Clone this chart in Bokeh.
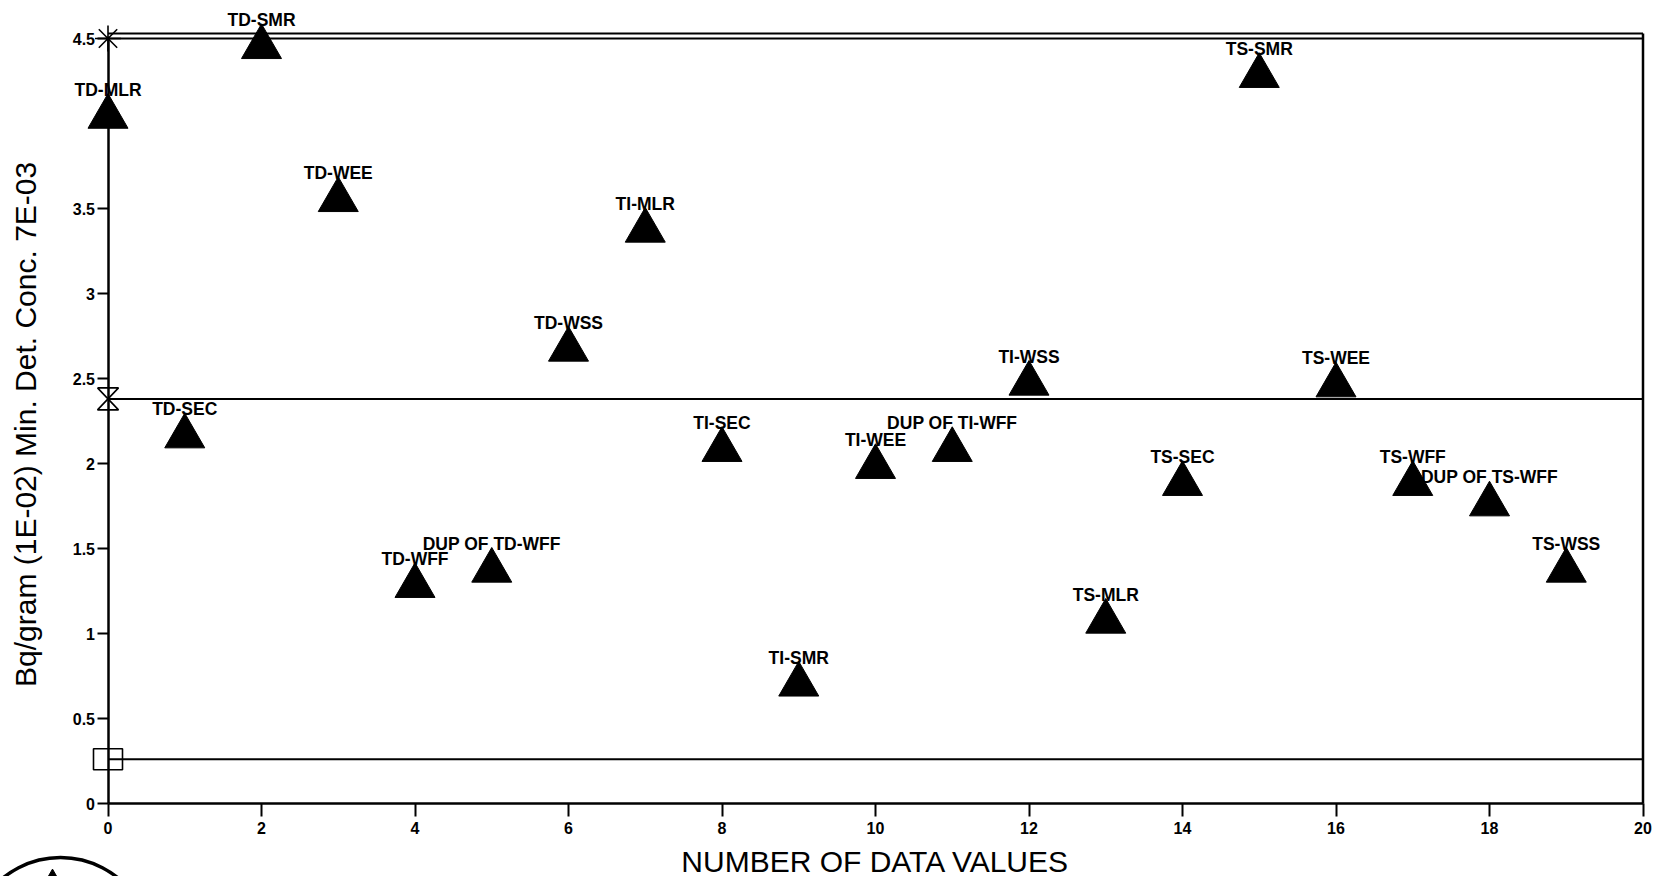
import math
from bokeh.plotting import figure
from bokeh.models import Range1d, LinearAxis, FixedTicker, Label, CustomJSTickFormatter, Grid
from bokeh.embed import file_html
from bokeh.resources import INLINE
from bokeh.core.properties import value

# ---------------- data ----------------
x_values = list(range(20))
sample_names = ["TD-MLR", "TD-SEC", "TD-SMR", "TD-WEE", "TD-WFF", "DUP OF TD-WFF",
                "TD-WSS", "TI-MLR", "TI-SEC", "TI-SMR", "TI-WEE", "DUP OF TI-WFF",
                "TI-WSS", "TS-MLR", "TS-SEC", "TS-SMR", "TS-WEE", "TS-WFF",
                "DUP OF TS-WFF", "TS-WSS"]
conc_values = [4.04, 2.16, 4.45, 3.55, 1.28, 1.37, 2.67, 3.37, 2.08, 0.70,
               1.98, 2.08, 2.47, 1.07, 1.88, 4.28, 2.46, 1.88, 1.76, 1.37]

limit_asterisk = [4.5]
limit_hourglass = [2.38]
limit_square = [0.26]
limit_levels = limit_asterisk + limit_hourglass + limit_square

x_ticks = [0, 2, 4, 6, 8, 10, 12, 14, 16, 18, 20]
y_ticks = [0, 0.5, 1, 1.5, 2, 2.5, 3, 3.5, 4.5]

x_title = "NUMBER OF DATA VALUES"
y_title = "Bq/gram (1E-02) Min. Det. Conc. 7E-03"

# ---------------- layout constants ----------------
FONT = "Liberation Sans"
W, H = 1660, 876
X0, X1 = 0, 20
FRAME_TOP = 4.53
ORIGIN_PX_X, ORIGIN_PX_Y = 107.5, 803.0   # canvas position of (0, 0)
PX_PER_X = 76.75
PX_PER_Y = 170.0


def px_to_x(px):
    return (px - ORIGIN_PX_X) / PX_PER_X


def px_to_y(py):
    return (ORIGIN_PX_Y - py) / PX_PER_Y


x_range = Range1d(px_to_x(0), px_to_x(W))
y_range = Range1d(px_to_y(H), px_to_y(0))

p = figure(width=W, height=H, x_range=x_range, y_range=y_range,
           output_backend="svg", toolbar_location=None,
           x_axis_location=None, y_axis_location=None,
           min_border_left=0, min_border_right=0, min_border_top=0, min_border_bottom=0)
p.outline_line_color = None
p.background_fill_color = "white"
p.border_fill_color = "white"
for g in p.select(type=Grid):
    g.visible = False

# axes placed at data origin
xaxis = LinearAxis(fixed_location=0, ticker=FixedTicker(ticks=x_ticks), bounds=(X0, X1))
xaxis.axis_line_width = 2.5
xaxis.major_tick_line_width = 2
xaxis.major_tick_out = 13
xaxis.major_tick_in = 0
xaxis.minor_tick_line_color = None
xaxis.major_label_standoff = 5
xaxis.major_label_text_font = FONT
xaxis.major_label_text_font_style = "bold"
xaxis.major_label_text_font_size = "16px"
xaxis.major_label_text_color = "black"
p.add_layout(xaxis, "below")

yaxis = LinearAxis(fixed_location=0, ticker=FixedTicker(ticks=y_ticks), bounds=(0, 4.5),
                   formatter=CustomJSTickFormatter(code="return tick.toString()"))
yaxis.axis_line_width = 2.5
yaxis.major_tick_line_width = 2
yaxis.major_tick_out = 11
yaxis.major_tick_in = 0
yaxis.minor_tick_line_color = None
yaxis.major_label_standoff = 2
yaxis.major_label_text_font = FONT
yaxis.major_label_text_font_style = "bold"
yaxis.major_label_text_font_size = "16px"
yaxis.major_label_text_color = "black"
p.add_layout(yaxis, "left")

# frame top and right border
p.segment(x0=[X0], y0=[FRAME_TOP], x1=[X1], y1=[FRAME_TOP], line_color="black", line_width=2)
p.segment(x0=[X1], y0=[0], x1=[X1], y1=[FRAME_TOP], line_color="black", line_width=2.5)

# limit lines
p.segment(x0=[X0] * len(limit_levels), y0=limit_levels,
          x1=[X1] * len(limit_levels), y1=limit_levels,
          line_color="black", line_width=2)

# limit markers at x = 0
p.scatter(x=[0] * len(limit_asterisk), y=limit_asterisk, marker="asterisk", size=26,
          line_color="black", line_width=1.6)
p.rect(x=[0] * len(limit_square), y=limit_square, width=29, height=21,
       width_units="screen", height_units="screen",
       fill_color=None, line_color="black", line_width=1.6)
hw, hh = 10.5 / PX_PER_X, 11.0 / PX_PER_Y
hx, hy = [], []
for yv in limit_hourglass:
    hx.append([-hw, hw, -hw, hw, -hw])
    hy.append([yv + hh, yv + hh, yv - hh, yv - hh, yv + hh])
p.multi_line(xs=hx, ys=hy, line_color="black", line_width=1.6)

# data triangles and labels
p.scatter(x=x_values, y=conc_values, marker="triangle", size=40,
          fill_color="black", line_color="black")
p.text(x=x_values, y=conc_values, text=sample_names, y_offset=-27,
       text_align="center", text_baseline="alphabetic",
       text_font=value(FONT), text_font_style="bold", text_font_size="17.5px",
       text_color="black")

# axis titles (placed outside the plotted region)
p.add_layout(Label(x=(X0 + X1) / 2, y=px_to_y(860.5), text=x_title,
                   text_align="center", text_baseline="alphabetic",
                   text_font=FONT, text_font_size="30px", text_color="black"))
p.add_layout(Label(x=px_to_x(25), y=2.23, text=y_title,
                   angle=math.pi / 2, text_align="center", text_baseline="alphabetic",
                   text_font=FONT, text_font_size="30px", text_color="black"))

# partial stamp seal in the lower-left corner of the scanned page
p.arc(x=[px_to_x(60)], y=[px_to_y(948)], radius=91, radius_units="screen",
      start_angle=math.radians(38), end_angle=math.radians(142),
      line_color="black", line_width=3.5)
p.scatter(x=[px_to_x(52)], y=[px_to_y(879)], marker="triangle", size=18,
          fill_color="black", line_color="black")

open("out.html", "w").write(file_html(p, INLINE))
